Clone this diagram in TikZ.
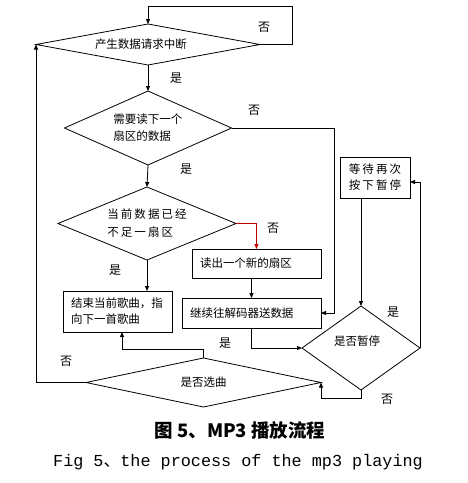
\documentclass[tikz,border=0pt]{standalone}
\usepackage{fontspec}
\newfontfamily\cjk{Noto Sans CJK SC}
\newfontfamily\cjkw[LetterSpace=18]{Noto Sans CJK SC}
\newfontfamily\monof{Liberation Mono}
\usetikzlibrary{shapes.geometric,arrows.meta}
\begin{document}
\begin{tikzpicture}[x=1pt,y=-1pt,
  every node/.style={font=\cjk\fontsize{11.5}{17}\selectfont, text=black},
  dia/.style={draw, diamond, inner sep=0pt, outer sep=0pt, line width=0.8pt, align=left},
  box/.style={draw, rectangle, inner xsep=8pt, inner ysep=0pt, outer sep=0pt, align=left, line width=0.8pt},
  arr/.style={draw, line width=0.8pt, -{Triangle[length=5pt,width=4pt]}},
  lab/.style={font=\cjk\fontsize{12}{14}\selectfont, inner sep=0pt}]
\useasboundingbox[fill=white] (0,0) rectangle (468,483);

% decisions
\node[dia, minimum width=224pt, minimum height=41pt, shape aspect=5.4] (d1) at (148,44.5) {产生数据请求中断\hspace*{14pt}};
\node[dia, minimum width=167pt, minimum height=74pt, shape aspect=2.26] (d2) at (148,128) {需要读下一个\\扇区的数据};
\node[dia, minimum width=178pt, minimum height=73pt, shape aspect=2.44, font=\cjkw\fontsize{11.5}{18}\selectfont] (d3) at (147,223.5) {当前数据已经\\不足一扇区};
\node[dia, minimum width=118pt, minimum height=84pt, shape aspect=1.4, text depth=14pt] (d4) at (361,348) {是否暂停\hspace*{8pt}};
\node[dia, minimum width=235pt, minimum height=49pt, shape aspect=4.8] (d5) at (203.5,382.5) {是否选曲};

% boxes
\node[box, minimum width=129pt, minimum height=29pt, text width=113pt] (b1) at (256.5,263.5) {读出一个新的扇区};
\node[box, minimum width=139pt, minimum height=30pt, text width=123pt] (b2) at (251.5,313) {继续往解码器送数据};
\node[box, minimum width=109pt, minimum height=41pt, text width=93pt, font=\cjk\fontsize{11.5}{16}\selectfont] (b3) at (117.5,311.5) {结束当前歌曲，指\\向下一首歌曲};
\node[box, minimum width=70pt, minimum height=41pt, inner xsep=0pt, align=center, font=\cjkw\fontsize{11.5}{16}\selectfont] (w) at (375,177.5) {等待再次\\按下暂停};

% bend points
\coordinate (c1) at (292,6);
\coordinate (c2) at (334,313);

% connectors
\draw[arr] (d1.east) -| (c1) -| (d1.north);
\draw[arr] (d1.south) -- (d2.north);
\draw[arr] (d2.east) -| (c2) -- (b2.east);
\draw[arr] (d2.south) -- (d3.north);
\draw[arr, draw=red!75!black] (d3.east) -| (b1.north);
\draw[arr] (d3.south) -- (d3.south |- b3.north);
\draw[arr] (b2.north |- b1.south) -- (b2.north);
\draw[arr] (b2.south) |- (d4.west);
\draw[arr] (d4.north |- w.south) -- (d4.north);
\draw[arr] (d4.east) |- ([yshift=-4.5pt]w.east);
\draw[arr] (d4.south) -- ++(0,8) -| (d5.east);
\draw[arr] (d5.north) -- ++(0,-9) -| ([xshift=4.5pt]b3.south);
\draw[arr] (d5.west) -| (d1.west);

% labels
\node[lab] (l1) at (264,27) {否};
\node[lab] (l2) at (176,78) {是};
\node[lab] (l3) at (254,110) {否};
\node[lab] (l4) at (186,169) {是};
\node[lab] (l5) at (273,228) {否};
\node[lab] (l6) at (115,270) {是};
\node[lab] (l7) at (393,312) {是};
\node[lab] (l8) at (225,343) {是};
\node[lab] (l9) at (66,361) {否};
\node[lab] (l10) at (387,399) {否};

% captions
\node[font=\cjk\bfseries\fontsize{18.5}{20}\selectfont, inner sep=0pt] (cap1) at (240,430) {图 5、MP3 播放流程};
\node[font=\monof\fontsize{16.8}{20}\selectfont, inner sep=0pt] (cap2) at (238,462) {Fig 5{\cjk 、}the process of the mp3 playing};
\end{tikzpicture}
\end{document}
